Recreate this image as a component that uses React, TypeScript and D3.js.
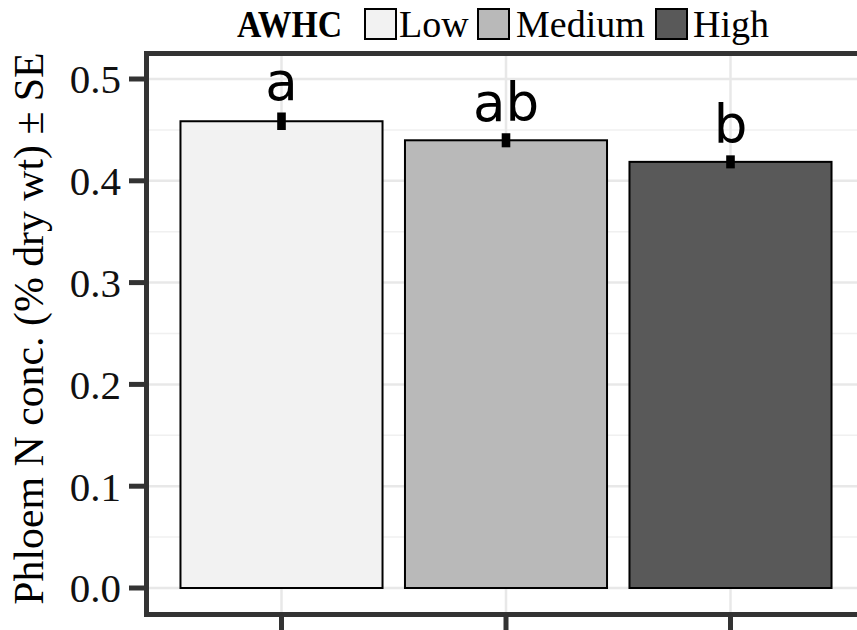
import React from "react";
import * as d3 from "d3";

const categories = ["Low", "Medium", "High"];
const means = [0.4585, 0.4398, 0.4186];
const ses = [0.0086, 0.0069, 0.0064];
const letters = ["a", "ab", "b"];
const fills = ["#f2f2f2", "#b9b9b9", "#595959"];
const majorTicks = [0, 0.1, 0.2, 0.3, 0.4, 0.5];
const minorTicks = [0.05, 0.15, 0.25, 0.35, 0.45];
const tickLabels = ["0.0", "0.1", "0.2", "0.3", "0.4", "0.5"];
const legendTitle = "AWHC";
const yTitle = "Phloem N conc. (% dry wt) \u00b1 SE";

export default function App() {
  const W = 857, H = 630;
  const panelLeft = 146.5, panelTop = 53.5, panelBottom = 614.5;
  const y = d3.scaleLinear().domain([0, 0.5]).range([588, 79]);
  const x = d3.scalePoint<string>().domain(categories).range([281.5, 730.5]);
  const step = x.step();
  const barW = step * 0.9;
  const serif = "Liberation Serif, serif";
  const sans = "DejaVu Sans, sans-serif";
  const axisCol = "#333333";

  const legendBoxes = [365, 478, 656];
  const legendTexts = [399, 516, 693];

  return (
    <svg width={W} height={H} style={{ position: "absolute", left: 0, top: 0, background: "#fff" }}>
      <rect x={0} y={0} width={W} height={H} fill="#fff" />
      {minorTicks.map((t) => (
        <line key={"mi" + t} x1={panelLeft} x2={W} y1={y(t)} y2={y(t)} stroke="#f0f0f0" strokeWidth={1.5} />
      ))}
      {majorTicks.map((t) => (
        <line key={"ma" + t} x1={panelLeft} x2={W} y1={y(t)} y2={y(t)} stroke="#e8e8e8" strokeWidth={2.5} />
      ))}
      {categories.map((c) => (
        <line key={"vg" + c} x1={x(c)} x2={x(c)} y1={panelTop} y2={panelBottom} stroke="#e8e8e8" strokeWidth={2.5} />
      ))}
      {categories.map((c, i) => (
        <rect key={"b" + c} x={(x(c) as number) - barW / 2} y={y(means[i])} width={barW}
          height={y(0) - y(means[i])} fill={fills[i]} stroke="#000" strokeWidth={2} />
      ))}
      {categories.map((c, i) => (
        <rect key={"e" + c} x={(x(c) as number) - 4.3} y={y(means[i] + ses[i])} width={8.6}
          height={y(means[i] - ses[i]) - y(means[i] + ses[i])} fill="#000" />
      ))}
      {categories.map((c, i) => (
        <text key={"l" + c} x={x(c)} y={y(means[i] + ses[i]) - 12} textAnchor="middle"
          fontFamily={sans} fontSize={53} fill="#000">{letters[i]}</text>
      ))}
      <line x1={panelLeft} x2={W} y1={panelTop} y2={panelTop} stroke={axisCol} strokeWidth={5} />
      <line x1={panelLeft} x2={panelLeft} y1={panelTop - 2.5} y2={panelBottom + 2.5} stroke={axisCol} strokeWidth={5} />
      <line x1={panelLeft - 2.5} x2={W} y1={panelBottom} y2={panelBottom} stroke={axisCol} strokeWidth={5} />
      {majorTicks.map((t, i) => (
        <g key={"yt" + t}>
          <line x1={129} x2={panelLeft} y1={y(t)} y2={y(t)} stroke={axisCol} strokeWidth={5} />
          <text x={121} y={y(t)} dy="0.35em" textAnchor="end" fontFamily={serif} fontSize={41} fill="#111">
            {tickLabels[i]}
          </text>
        </g>
      ))}
      {categories.map((c) => (
        <line key={"xt" + c} x1={x(c)} x2={x(c)} y1={panelBottom} y2={H} stroke={axisCol} strokeWidth={5} />
      ))}
      <text transform={`translate(43, 328.5) rotate(-90)`} textAnchor="middle"
        fontFamily={serif} fontSize={41.8} fill="#000">{yTitle}</text>
      <text x={237} y={37} fontFamily={serif} fontWeight="bold" fontSize={38} textLength={105}
        lengthAdjust="spacingAndGlyphs" fill="#000">{legendTitle}</text>
      {categories.map((c, i) => (
        <g key={"lg" + c}>
          <rect x={legendBoxes[i]} y={9} width={31} height={30} fill={fills[i]} stroke="#000" strokeWidth={2} />
          <text x={legendTexts[i]} y={37} fontFamily={serif} fontSize={38} fill="#000">{c}</text>
        </g>
      ))}
    </svg>
  );
}
